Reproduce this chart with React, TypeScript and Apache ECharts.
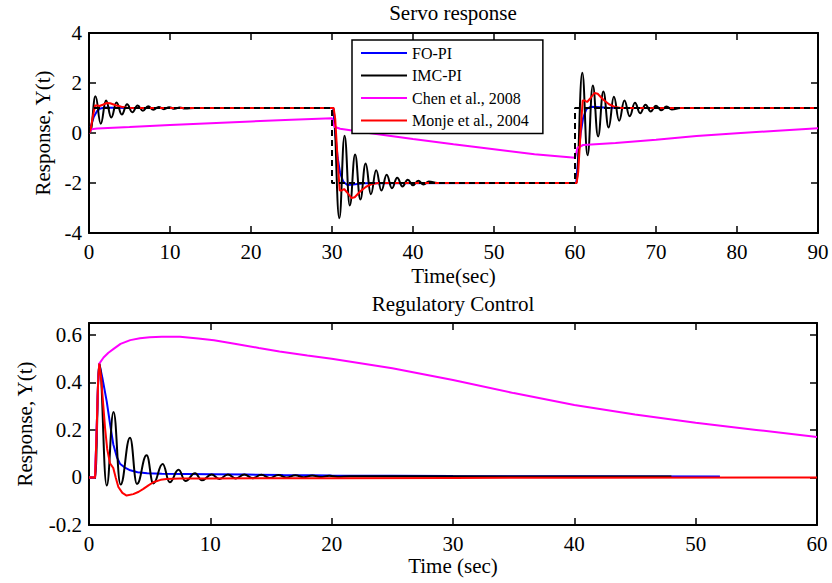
import React, { useEffect, useRef } from "react";
import * as echarts from "echarts";

type Pt = [number, number];

const FONT = "Liberation Serif";

const seriesNames = ["FO-PI", "IMC-PI", "Chen et al., 2008", "Monje et al., 2004"];
const colors = ["#0000ff", "#000000", "#ff00ff", "#ff0000"];

// ---- Servo response (time in s, response) ----
const servoSetpoint: Pt[] = [[0, 0], [0, 1], [30, 1], [30, -2], [60, -2], [60, 1], [90, 1]];

const servoFOPI: Pt[] = [
  [0, 0], [0.3, 0.35], [0.6, 0.65], [1.0, 0.88], [1.4, 0.98], [2.0, 1.02], [3, 1.01], [5, 1], [30.15, 1],
  [30.4, 0.0], [30.7, -1.0], [31.0, -1.6], [31.4, -1.95], [31.9, -2.08], [32.6, -2.06], [34, -2.01], [60.15, -2],
  [60.4, -1.0], [60.7, 0.0], [61.0, 0.6], [61.4, 0.95], [61.9, 1.05], [62.6, 1.04], [64, 1.01], [90, 1],
];

const servoIMC: Pt[] = [
  [0, 0], [0.15, 0.05], [0.8, 1.47], [1.45, 0.37], [2.1, 1.3], [2.75, 0.62], [3.4, 1.22], [4.05, 0.74],
  [4.7, 1.15], [5.35, 0.83], [6.0, 1.1], [6.65, 0.89], [7.3, 1.07], [7.95, 0.93], [8.6, 1.045], [9.25, 0.955],
  [9.9, 1.03], [10.55, 0.97], [11.2, 1.02], [11.85, 0.98], [13, 1], [30.15, 1],
  [30.9, -3.41], [31.55, -0.11], [32.2, -2.9], [32.85, -0.86], [33.5, -2.66], [34.15, -1.22], [34.8, -2.45],
  [35.45, -1.49], [36.1, -2.3], [36.75, -1.67], [37.4, -2.21], [38.05, -1.79], [38.7, -2.135], [39.35, -1.865],
  [40.0, -2.09], [40.65, -1.91], [41.3, -2.06], [41.95, -1.94], [43, -2], [60.15, -2],
  [60.9, 2.41], [61.55, -0.89], [62.2, 1.9], [62.85, -0.14], [63.5, 1.66], [64.15, 0.22], [64.8, 1.45],
  [65.45, 0.49], [66.1, 1.3], [66.75, 0.67], [67.4, 1.21], [68.05, 0.79], [68.7, 1.135], [69.35, 0.865],
  [70.0, 1.09], [70.65, 0.91], [71.3, 1.06], [71.95, 0.94], [73, 1], [90, 1],
];

const servoChen: Pt[] = [
  [0, 0], [0.3, 0.15], [1, 0.18], [5, 0.24], [10, 0.32], [15, 0.39], [20, 0.46], [25, 0.53], [30, 0.59],
  [30.3, 0.25], [31, 0.17], [35, -0.02], [40, -0.24], [45, -0.45], [50, -0.65], [55, -0.85], [60, -0.99],
  [60.3, -0.6], [61, -0.48], [65, -0.4], [70, -0.27], [75, -0.12], [80, -0.01], [85, 0.09], [90, 0.19],
];

const servoMonje: Pt[] = [
  [0, 0], [0.2, 0.15], [0.5, 0.7], [0.75, 1.1], [1.0, 1.1], [1.3, 1.08], [1.7, 1.13], [2.2, 1.2], [2.6, 1.19],
  [3.3, 1.11], [4.0, 1.05], [4.7, 1.015], [5.5, 1], [30.2, 1],
  [30.4, 0.55], [30.7, -1.1], [30.95, -2.3], [31.2, -2.3], [31.5, -2.24], [31.9, -2.39], [32.4, -2.6],
  [32.8, -2.57], [33.5, -2.33], [34.2, -2.15], [34.9, -2.045], [35.7, -2], [60.2, -2],
  [60.4, -1.55], [60.7, 0.1], [60.95, 1.3], [61.2, 1.3], [61.5, 1.24], [61.9, 1.39], [62.4, 1.6], [62.8, 1.57],
  [63.5, 1.33], [64.2, 1.15], [64.9, 1.045], [65.7, 1], [90, 1],
];

// ---- Regulatory control (load disturbance) ----
const regFOPI: Pt[] = [
  [0, 0], [0.5, 0], [0.6, 0.15], [0.75, 0.4], [0.85, 0.479], [1.1, 0.42], [1.46, 0.32], [1.75, 0.22],
  [2.0, 0.14], [2.3, 0.085], [2.55, 0.058], [3.0, 0.04], [3.4, 0.03], [4.0, 0.022], [4.8, 0.018], [6, 0.016],
  [8, 0.015], [10, 0.014], [13, 0.012], [16, 0.01], [20, 0.008], [30, 0.006], [40, 0.005], [52, 0.004],
];

const regIMC: Pt[] = [
  [0, 0], [0.5, 0], [0.85, 0.479], [1.46, -0.034], [2.02, 0.275], [2.6, -0.03], [3.38, 0.167], [3.95, -0.027],
  [4.75, 0.093], [5.3, -0.025], [6.07, 0.057], [6.65, -0.02], [7.38, 0.032], [7.95, -0.015], [8.74, 0.018],
  [9.3, -0.012], [10.1, 0.012], [10.75, -0.006], [11.45, 0.013], [12.1, -0.004], [12.8, 0.012], [13.5, -0.003],
  [14.2, 0.011], [14.9, -0.002], [15.6, 0.01], [16.3, 0], [17, 0.009], [17.7, 0.001], [18.4, 0.008],
  [19.1, 0.002], [19.8, 0.007], [20.5, 0.003], [21.5, 0.005], [48, 0.004],
];

const regChen: Pt[] = [
  [0, 0], [0.5, 0], [0.6, 0.15], [0.75, 0.4], [0.85, 0.479], [1.2, 0.505], [1.6, 0.525], [2.0, 0.54],
  [2.6, 0.562], [3.4, 0.578], [4.2, 0.586], [5, 0.59], [6, 0.592], [7.5, 0.592], [9, 0.585], [10.3, 0.577],
  [12, 0.563], [14, 0.545], [15.7, 0.53], [18, 0.513], [20, 0.5], [25, 0.46], [30, 0.41], [35, 0.355],
  [40, 0.305], [45, 0.265], [50, 0.23], [55, 0.2], [60, 0.17],
];

const regMonje: Pt[] = [
  [0, 0], [0.5, 0], [0.6, 0.15], [0.75, 0.4], [0.85, 0.479], [1.0, 0.42], [1.15, 0.32], [1.32, 0.21],
  [1.5, 0.12], [1.73, 0.06], [2.0, 0.04], [2.2, 0.0], [2.42, -0.04], [2.75, -0.065], [3.1, -0.076],
  [3.65, -0.07], [4.1, -0.06], [4.48, -0.048], [4.9, -0.033], [5.3, -0.02], [5.9, -0.01], [6.4, -0.006],
  [7.5, -0.004], [10, -0.004], [20, -0.003], [30, -0.002], [40, -0.001], [60, 0],
];

const servoXTicks = { min: 0, max: 90, interval: 10 };
const servoYTicks = { min: -4, max: 4, interval: 2 };
const regXTicks = { min: 0, max: 60, interval: 10 };
const regYTicks = { min: -0.2, max: 0.65, interval: 0.2, values: [-0.2, 0, 0.2, 0.4, 0.6] };

const labelStyle = { fontFamily: FONT, fontSize: 21, color: "#000" };
const axisLine = { show: true, onZero: false, lineStyle: { color: "#000", width: 2 } };
const tick = { show: true, inside: true, length: 7, lineStyle: { color: "#000", width: 1.5 } };

function fmt(v: number): string {
  if (Math.abs(v) < 1e-9) return "0";
  return String(+v.toFixed(1));
}

export default function App() {
  const ref = useRef<HTMLDivElement>(null);

  useEffect(() => {
    if (!ref.current) return;
    const chart = echarts.init(ref.current, undefined, { renderer: "svg" });

    const line = (name: string, data: Pt[], color: string, axis: number, extra: any = {}) => ({
      type: "line",
      name,
      data,
      xAxisIndex: axis,
      yAxisIndex: axis,
      symbol: "none",
      lineStyle: { color, width: 2 },
      itemStyle: { color },
      ...extra,
    });
    const osc = { smooth: 0.45, smoothMonotone: "x" };

    const xMain = (t: any, gridIndex: number, name: string, gap: number) => ({
      type: "value",
      gridIndex,
      position: "bottom",
      min: t.min,
      max: t.max,
      interval: t.interval,
      name,
      nameLocation: "middle",
      nameGap: gap,
      nameTextStyle: labelStyle,
      axisLine,
      axisTick: tick,
      axisLabel: { ...labelStyle, margin: 8 },
      splitLine: { show: false },
    });
    const xMirror = (t: any, gridIndex: number) => ({
      type: "value",
      gridIndex,
      position: "top",
      min: t.min,
      max: t.max,
      interval: t.interval,
      axisLine,
      axisTick: tick,
      axisLabel: { show: false },
      splitLine: { show: false },
    });
    const yMain = (t: any, gridIndex: number, gap: number) => ({
      type: "value",
      gridIndex,
      position: "left",
      min: t.min,
      max: t.max,
      interval: t.interval,
      name: "Response, Y(t)",
      nameLocation: "middle",
      nameGap: gap,
      nameTextStyle: labelStyle,
      axisLine,
      axisTick: t.values ? { ...tick, customValues: t.values } : tick,
      axisLabel: {
        ...labelStyle,
        margin: 7,
        formatter: fmt,
        ...(t.values ? { customValues: t.values } : {}),
      },
      splitLine: { show: false },
    });
    const yMirror = (t: any, gridIndex: number) => ({
      type: "value",
      gridIndex,
      position: "right",
      min: t.min,
      max: t.max,
      interval: t.interval,
      axisLine,
      axisTick: t.values ? { ...tick, customValues: t.values } : tick,
      axisLabel: { show: false },
      splitLine: { show: false },
    });

    chart.setOption({
      animation: false,
      backgroundColor: "#ffffff",
      textStyle: { fontFamily: FONT, color: "#000" },
      grid: [
        { left: 89, top: 33, width: 729, height: 200 },
        { left: 89, top: 323, width: 728, height: 202 },
      ],
      xAxis: [
        xMain(servoXTicks, 0, "Time(sec)", 32),
        xMirror(servoXTicks, 0),
        xMain(regXTicks, 1, "Time (sec)", 30),
        xMirror(regXTicks, 1),
      ],
      yAxis: [
        yMain(servoYTicks, 0, 36),
        yMirror(servoYTicks, 0),
        yMain(regYTicks, 1, 54),
        yMirror(regYTicks, 1),
      ],
      legend: {
        data: seriesNames,
        orient: "vertical",
        left: 352,
        top: 40,
        icon: "path://M0,0H46V2H0Z",
        symbolKeepAspect: true,
        itemWidth: 46,
        itemHeight: 14,
        itemGap: 6.5,
        padding: [5, 14, 5, 9],
        borderColor: "#000",
        borderWidth: 1.5,
        backgroundColor: "#fff",
        selectedMode: false,
        textStyle: { fontFamily: FONT, fontSize: 16, color: "#000" },
      },
      graphic: [
        {
          type: "text",
          x: 453,
          y: 13,
          style: { text: "Servo response", align: "center", verticalAlign: "middle", font: `21px "${FONT}"`, fill: "#000" },
        },
        {
          type: "text",
          x: 453,
          y: 304,
          style: { text: "Regulatory Control", align: "center", verticalAlign: "middle", font: `21px "${FONT}"`, fill: "#000" },
        },
      ],
      series: [
        line(seriesNames[0], servoFOPI, colors[0], 0),
        line(seriesNames[1], servoIMC, colors[1], 0, osc),
        line(seriesNames[2], servoChen, colors[2], 0),
        line(seriesNames[3], servoMonje, colors[3], 0),
        line("Set-point", servoSetpoint, "#000", 0, { lineStyle: { color: "#000", width: 2, type: [6, 4] } }),
        line(seriesNames[0], regFOPI, colors[0], 2),
        line(seriesNames[1], regIMC, colors[1], 2, osc),
        line(seriesNames[2], regChen, colors[2], 2),
        line(seriesNames[3], regMonje, colors[3], 2),
      ],
    });

    return () => chart.dispose();
  }, []);

  return (
    <div
      ref={ref}
      style={{ position: "fixed", left: 0, top: 0, width: 832, height: 583, background: "#fff" }}
    />
  );
}
